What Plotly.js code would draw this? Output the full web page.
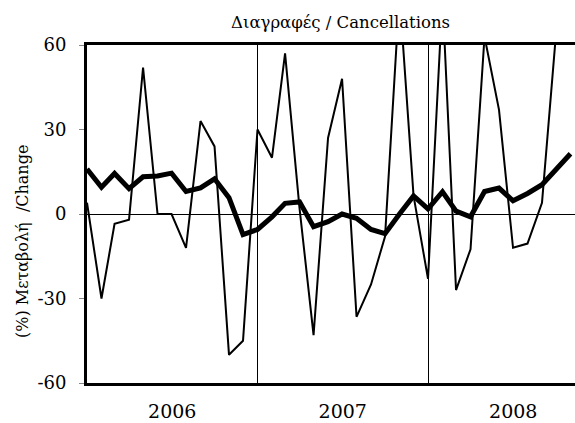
<!DOCTYPE html>
<html>
<head>
<meta charset="utf-8">
<script src="https://cdn.plot.ly/plotly-3.0.1.min.js"></script>
<style>html,body{margin:0;padding:0;background:#fff;}#chart{width:575px;height:423px;}</style>
</head>
<body>
<div id="chart"></div>
<script>
// Monthly observations, January 2006 onward
const startYear = 2006;
const startMonth = 1;
const monthCount = 35;
// Thin line: monthly % change
const monthlyChange = [4, -30, -3.5, -2, 52, 0, 0, -12, 33, 24, -50, -45,
                       30, 20, 57, 2, -43, 27, 48, -36.5, -25, -8, 78, 6.5,
                       -23, 77, -27, -12.5, 63, 37, -12, -10.5, 4, 64, 70];
// Thick line: trend % change
const trendChange = [16, 9.5, 14.4, 9, 13.2, 13.5, 14.5, 8, 9.3, 12.5, 5.8, -7.3,
                     -5.5, -1, 3.8, 4.3, -4.5, -2.7, 0, -1.5, -5.5, -7, 0, 6.4,
                     1.8, 7.9, 1, -1, 8, 9.2, 4.7, 7.3, 10.4, 15.5, 21.4];
const yTicks = [-60, -30, 0, 30, 60];
const yTickText = ['-60', '-30', '0', '30', '60'];
const titleText = 'Διαγραφές / Cancellations';
const yTitleText = '(%) Μεταβολή  /Change';

const months = [];
for (let i = 0; i < monthCount; i++) {
  const y = startYear + Math.floor((startMonth - 1 + i) / 12);
  const m = ((startMonth - 1 + i) % 12) + 1;
  months.push(y + '-' + String(m).padStart(2, '0') + '-01');
}

const font = 'DejaVu Serif';

const traces = [
  {x: months, y: monthlyChange, type: 'scatter', mode: 'lines',
   line: {color: '#000', width: 2}, hoverinfo: 'skip'},
  {x: months, y: trendChange, type: 'scatter', mode: 'lines',
   line: {color: '#000', width: 5}, hoverinfo: 'skip'}
];

const layout = {
  width: 575, height: 423,
  margin: {l: 87, r: 0, t: 45, b: 40},
  paper_bgcolor: '#fff', plot_bgcolor: '#fff',
  showlegend: false,
  font: {family: font, color: '#000', size: 18},
  xaxis: {
    type: 'date',
    range: ['2006-01-01', '2008-11-10 16:00'],
    tick0: '2006-01-01', dtick: 'M12',
    tickformat: '%Y', ticklabelmode: 'period',
    ticks: '', showgrid: true, gridcolor: '#000', gridwidth: 1,
    showline: true, linecolor: '#000', linewidth: 3, mirror: true,
    zeroline: false,
    tickfont: {family: font, size: 19, color: '#000'},
    ticklabelstandoff: 9
  },
  yaxis: {
    range: [-60, 60], tickvals: yTicks, ticktext: yTickText,
    ticks: 'outside', ticklen: 5, tickcolor: '#888', tickwidth: 1,
    showgrid: false,
    showline: true, linecolor: '#000', linewidth: 3, mirror: false,
    zeroline: true, zerolinecolor: '#000', zerolinewidth: 1,
    tickfont: {family: font, size: 18, color: '#000'},
    ticklabelstandoff: 9
  },
  annotations: [
    {text: titleText, xref: 'paper', yref: 'paper',
     x: (340 - 87) / 488, y: 1, yshift: 23, xanchor: 'center', yanchor: 'middle',
     showarrow: false, font: {family: font, size: 16.5, color: '#000'}},
    {text: yTitleText, xref: 'paper', yref: 'paper', textangle: -90,
     x: 0, xshift: -65, y: (383 - 242) / 338, xanchor: 'center', yanchor: 'middle',
     showarrow: false, font: {family: font, size: 16, color: '#000'}}
  ]
};

Plotly.newPlot('chart', traces, layout, {staticPlot: true, displayModeBar: false});
</script>
</body>
</html>
